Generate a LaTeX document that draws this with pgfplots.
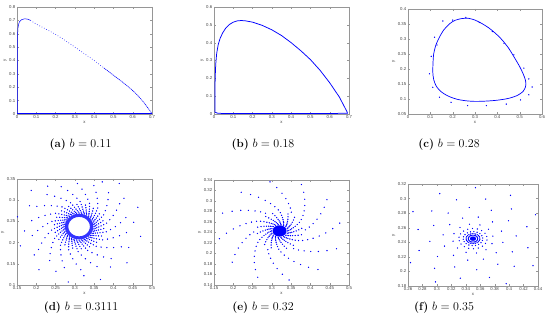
\documentclass[border=0pt]{standalone}
\usepackage{fontspec}
\usepackage{pgfplots}
\pgfplotsset{compat=1.18}
\newfontfamily\tickfam{Liberation Sans}
\newcommand\tickfont{\tickfam\fontsize{4.3}{5}\selectfont}
\definecolor{mblue}{RGB}{0,0,255}
\definecolor{frame}{RGB}{150,150,150}
\pgfplotsset{
  panel/.style={
    scale only axis, anchor=south west,
    axis line style={frame, line width=0.4pt},
    every tick/.style={frame, line width=0.3pt},
    tick align=inside, major tick length=1.6pt,
    ticklabel style={font=\tickfont, text=black!75},
    xticklabel style={inner sep=1pt, yshift=-0.6pt},
    yticklabel style={inner sep=1pt, xshift=-0.6pt},
    label style={font=\tickfont, text=black!75},
    xlabel={x}, ylabel={y},
    xlabel style={yshift=2pt}, ylabel style={yshift=-2pt},
    scaled ticks=false,
    /pgf/number format/fixed, /pgf/number format/precision=4,
    /pgf/number format/assume math mode=true,
  },
  ovl/.style={scale only axis, anchor=south west, hide axis, clip=true},
  dots/.style={color=mblue, only marks, mark=*, mark size=0.4pt, mark options={draw=none, fill=mblue}, data cs=polar},
}
\begin{document}
\begin{tikzpicture}[x=1pt,y=1pt]
\useasboundingbox (0,0) rectangle (550,328);

% ---------------- (a)
\begin{axis}[panel, at={(17pt,214pt)}, width=135pt, height=107pt,
  xmin=0, xmax=0.7, ymin=0, ymax=0.8,
  xtick={0,0.1,0.2,0.3,0.4,0.5,0.6,0.7}, ytick={0,0.1,0.2,0.3,0.4,0.5,0.6,0.7,0.8}]
\addplot[mblue, line width=0.7pt] coordinates {(0,0.003) (0.7,0.003)};
\addplot[mblue, line width=0.5pt, smooth] coordinates {(0.003,0) (0.003,0.5) (0.004,0.62) (0.007,0.66) (0.013,0.69) (0.024,0.705) (0.04,0.712) (0.055,0.709) (0.07,0.70)};
\addplot[mblue, line width=0.6pt, smooth, dash pattern=on 0.6pt off 2pt] coordinates {(0.07,0.70) (0.1,0.672) (0.15,0.635) (0.2,0.595) (0.25,0.55) (0.3,0.50) (0.35,0.45) (0.4,0.40) (0.45,0.345)};
\addplot[mblue, line width=0.6pt, smooth, dash pattern=on 1.2pt off 0.7pt] coordinates {(0.45,0.345) (0.5,0.29) (0.55,0.235) (0.6,0.175) (0.65,0.10) (0.7,0.003)};
\end{axis}
\node[font=\fontsize{11.5}{13}\selectfont] at (80.5,183) {\textbf{(a)} $b=0.11$};

% ---------------- (b)
\begin{axis}[panel, at={(214pt,214pt)}, width=135pt, height=107pt,
  xmin=0, xmax=0.7, ymin=0, ymax=0.6,
  xtick={0,0.1,0.2,0.3,0.4,0.5,0.6,0.7}, ytick={0,0.1,0.2,0.3,0.4,0.5,0.6}]
\addplot[mblue, line width=0.75pt] coordinates {(0.005,0.01) (0.005,0.1) (0.006,0.2) (0.009,0.28) (0.014,0.34) (0.022,0.39) (0.032,0.425) (0.045,0.455) (0.06,0.48) (0.08,0.502) (0.10,0.515) (0.12,0.522) (0.14,0.524) (0.16,0.523) (0.2,0.515) (0.25,0.497) (0.3,0.472) (0.35,0.44) (0.4,0.40) (0.45,0.355) (0.5,0.305) (0.55,0.245) (0.6,0.175) (0.65,0.095) (0.69,0.012) (0.692,0.004) (0.6,0.003) (0.3,0.003) (0.05,0.003) (0.02,0.004) (0.01,0.008) (0.005,0.01)};
\end{axis}
\node[font=\fontsize{11.5}{13}\selectfont] at (263,183) {\textbf{(b)} $b=0.18$};

% ---------------- (c)
\begin{axis}[panel, at={(408pt,214pt)}, width=134pt, height=105pt,
  xmin=0, xmax=0.6, ymin=0.05, ymax=0.4,
  xtick={0,0.1,0.2,0.3,0.4,0.5,0.6}, ytick={0.05,0.1,0.15,0.2,0.25,0.3,0.35,0.4}]
\addplot[mblue, line width=0.7pt, smooth] coordinates {(0.112,0.22) (0.115,0.25) (0.125,0.28) (0.14,0.305) (0.16,0.33) (0.185,0.35) (0.21,0.362) (0.24,0.368) (0.27,0.369) (0.30,0.363) (0.33,0.352) (0.36,0.338) (0.39,0.32) (0.42,0.298) (0.45,0.27) (0.475,0.24) (0.50,0.208) (0.515,0.185) (0.525,0.165) (0.528,0.15) (0.526,0.14) (0.515,0.125) (0.49,0.112) (0.45,0.102) (0.40,0.096) (0.35,0.093) (0.30,0.092) (0.26,0.094) (0.22,0.099) (0.185,0.108) (0.16,0.118) (0.14,0.13) (0.125,0.145) (0.115,0.165) (0.111,0.19) (0.112,0.22)};
\addplot[color=mblue, only marks, mark=*, mark size=0.4pt, mark options={draw=none, fill=mblue}] coordinates {(0.156,0.36) (0.119,0.306) (0.104,0.242) (0.096,0.184) (0.111,0.139) (0.141,0.106) (0.193,0.089) (0.267,0.078) (0.351,0.078) (0.44,0.083) (0.504,0.097) (0.541,0.114) (0.556,0.14) (0.541,0.167) (0.519,0.203) (0.474,0.247) (0.43,0.286) (0.378,0.325) (0.319,0.355) (0.259,0.372) (0.2,0.363) (0.13,0.28)};
\end{axis}
\node[font=\fontsize{11.5}{13}\selectfont] at (449,183) {\textbf{(c)} $b=0.28$};

% ---------------- (d)
\begin{axis}[panel, at={(17pt,43pt)}, width=135pt, height=106pt,
  xmin=0.15, xmax=0.5, ymin=0.1, ymax=0.35,
  xtick={0.15,0.2,0.25,0.3,0.35,0.4,0.45,0.5}, ytick={0.1,0.15,0.2,0.25,0.3,0.35}]
\end{axis}
\begin{axis}[ovl, at={(17pt,43pt)}, width=135pt, height=106pt,
  xmin=-0.161, xmax=0.189, ymin=-0.168, ymax=0.137]
\addplot[fill=mblue, fill opacity=0.8, draw=none, data cs=polar] coordinates {(0,.037) (15,.037) (30,.037) (45,.037) (60,.037) (75,.037) (90,.037) (105,.037) (120,.037) (135,.037) (150,.037) (165,.037) (180,.037) (195,.037) (210,.037) (225,.037) (240,.037) (255,.037) (270,.037) (285,.037) (300,.037) (315,.037) (330,.037) (345,.037) (360,.037) (360,.028) (345,.028) (330,.028) (315,.028) (300,.028) (285,.028) (270,.028) (255,.028) (240,.028) (225,.028) (210,.028) (195,.028) (180,.028) (165,.028) (150,.028) (135,.028) (120,.028) (105,.028) (90,.028) (75,.028) (60,.028) (45,.028) (30,.028) (15,.028) (0,.028)};
\addplot[dots] coordinates {(0,.039) (10,.039) (20,.039) (30,.039) (40,.039) (50,.039) (60,.039) (70,.039) (80,.039) (90,.039) (100,.039) (110,.039) (120,.039) (130,.039) (140,.039) (150,.039) (160,.039) (170,.039) (180,.039) (190,.039) (200,.039) (210,.039) (220,.039) (230,.039) (240,.039) (250,.039) (260,.039) (270,.039) (280,.039) (290,.039) (300,.039) (310,.039) (320,.039) (330,.039) (340,.039) (350,.039)};
\addplot[dots] coordinates {(3,.042) (13,.042) (23,.042) (33,.042) (43,.042) (53,.042) (63,.042) (73,.042) (83,.042) (93,.042) (103,.042) (113,.042) (123,.042) (133,.042) (143,.042) (153,.042) (163,.042) (173,.042) (183,.042) (193,.042) (203,.042) (213,.042) (223,.042) (233,.042) (243,.042) (253,.042) (263,.042) (273,.042) (283,.042) (293,.042) (303,.042) (313,.042) (323,.042) (333,.042) (343,.042) (353,.042)};
\addplot[dots] coordinates {(6,.046) (16,.046) (26,.046) (36,.046) (46,.046) (56,.046) (66,.046) (76,.046) (86,.046) (96,.046) (106,.046) (116,.046) (126,.046) (136,.046) (146,.046) (156,.046) (166,.046) (176,.046) (186,.046) (196,.046) (206,.046) (216,.046) (226,.046) (236,.046) (246,.046) (256,.046) (266,.046) (276,.046) (286,.046) (296,.046) (306,.046) (316,.046) (326,.046) (336,.046) (346,.046) (356,.046)};
\addplot[dots] coordinates {(9,.051) (19,.051) (29,.051) (39,.051) (49,.051) (59,.051) (69,.051) (79,.051) (89,.051) (99,.051) (109,.051) (119,.051) (129,.051) (139,.051) (149,.051) (159,.051) (169,.051) (179,.051) (189,.051) (199,.051) (209,.051) (219,.051) (229,.051) (239,.051) (249,.051) (259,.051) (269,.051) (279,.051) (289,.051) (299,.051) (309,.051) (319,.051) (329,.051) (339,.051) (349,.051) (359,.051)};
\addplot[dots] coordinates {(2,.057) (12,.057) (22,.057) (32,.057) (42,.057) (52,.057) (62,.057) (72,.057) (82,.057) (92,.057) (102,.057) (112,.057) (122,.057) (132,.057) (142,.057) (152,.057) (162,.057) (172,.057) (182,.057) (192,.057) (202,.057) (212,.057) (222,.057) (232,.057) (242,.057) (252,.057) (262,.057) (272,.057) (282,.057) (292,.057) (302,.057) (312,.057) (322,.057) (332,.057) (342,.057) (352,.057)};
\addplot[dots] coordinates {(5,.064) (15,.064) (25,.064) (35,.064) (45,.064) (55,.064) (65,.064) (75,.064) (85,.064) (95,.064) (105,.064) (115,.064) (125,.064) (135,.064) (145,.064) (155,.064) (165,.064) (175,.064) (185,.064) (195,.064) (205,.064) (215,.064) (225,.064) (235,.064) (245,.064) (255,.064) (265,.064) (275,.064) (285,.064) (295,.064) (305,.064) (315,.064) (325,.064) (335,.064) (345,.064) (355,.064)};
\addplot[dots] coordinates {(8,.072) (28,.072) (48,.072) (68,.072) (88,.072) (108,.072) (128,.072) (148,.072) (168,.072) (188,.072) (208,.072) (228,.072) (248,.072) (268,.072) (288,.072) (308,.072) (328,.072) (348,.072)};
\addplot[dots] coordinates {(14,.082) (34,.082) (54,.082) (74,.082) (94,.082) (114,.082) (134,.082) (154,.082) (174,.082) (194,.082) (214,.082) (234,.082) (254,.082) (274,.082) (294,.082) (314,.082) (334,.082) (354,.082)};
\addplot[dots] coordinates {(0,.094) (20,.094) (40,.094) (60,.094) (80,.094) (100,.094) (120,.094) (140,.094) (160,.094) (180,.094) (200,.094) (220,.094) (240,.094) (260,.094) (280,.094) (300,.094) (320,.094) (340,.094)};
\addplot[dots] coordinates {(6,.108) (26,.108) (46,.108) (66,.108) (86,.108) (106,.108) (126,.108) (146,.108) (166,.108) (186,.108) (206,.108) (226,.108) (246,.108) (266,.108) (286,.108) (306,.108) (326,.108) (346,.108)};
\addplot[dots] coordinates {(12,.124) (32,.124) (52,.124) (72,.124) (92,.124) (112,.124) (132,.124) (152,.124) (172,.124) (192,.124) (212,.124) (232,.124) (252,.124) (272,.124) (292,.124) (312,.124) (332,.124) (352,.124)};
\addplot[dots] coordinates {(5,.142) (35,.142) (65,.142) (95,.142) (125,.142) (155,.142) (185,.142) (215,.142) (245,.142) (275,.142) (305,.142) (335,.142)};
\addplot[dots] coordinates {(20,.162) (50,.162) (80,.162) (110,.162) (140,.162) (170,.162) (200,.162) (230,.162) (260,.162) (290,.162) (320,.162) (350,.162)};
\end{axis}
\node[font=\fontsize{11.5}{13}\selectfont] at (81,20) {\textbf{(d)} $b=0.3111$};

% ---------------- (e)
\begin{axis}[panel, at={(214pt,43pt)}, width=135pt, height=105pt,
  xmin=0.15, xmax=0.5, ymin=0.14, ymax=0.34,
  xtick={0.15,0.2,0.25,0.3,0.35,0.4,0.45,0.5}, ytick={0.14,0.16,0.18,0.2,0.22,0.24,0.26,0.28,0.3,0.32,0.34}]
\end{axis}
\begin{axis}[ovl, at={(214pt,43pt)}, width=135pt, height=105pt,
  xmin=-0.17, xmax=0.18, ymin=-0.172, ymax=0.162]
\addplot[fill=mblue, draw=none, data cs=polar] coordinates {(0,.018) (15,.018) (30,.018) (45,.018) (60,.018) (75,.018) (90,.018) (105,.018) (120,.018) (135,.018) (150,.018) (165,.018) (180,.018) (195,.018) (210,.018) (225,.018) (240,.018) (255,.018) (270,.018) (285,.018) (300,.018) (315,.018) (330,.018) (345,.018) (360,.018)};
\addplot[dots] coordinates {(0,.021) (20,.021) (40,.021) (60,.021) (80,.021) (100,.021) (120,.021) (140,.021) (160,.021) (180,.021) (200,.021) (220,.021) (240,.021) (260,.021) (280,.021) (300,.021) (320,.021) (340,.021)};
\addplot[dots] coordinates {(4,.024) (24,.024) (44,.024) (64,.024) (84,.024) (104,.024) (124,.024) (144,.024) (164,.024) (184,.024) (204,.024) (224,.024) (244,.024) (264,.024) (284,.024) (304,.024) (324,.024) (344,.024)};
\addplot[dots] coordinates {(8,.028) (28,.028) (48,.028) (68,.028) (88,.028) (108,.028) (128,.028) (148,.028) (168,.028) (188,.028) (208,.028) (228,.028) (248,.028) (268,.028) (288,.028) (308,.028) (328,.028) (348,.028)};
\addplot[dots] coordinates {(12,.032) (32,.032) (52,.032) (72,.032) (92,.032) (112,.032) (132,.032) (152,.032) (172,.032) (192,.032) (212,.032) (232,.032) (252,.032) (272,.032) (292,.032) (312,.032) (332,.032) (352,.032)};
\addplot[dots] coordinates {(16,.037) (36,.037) (56,.037) (76,.037) (96,.037) (116,.037) (136,.037) (156,.037) (176,.037) (196,.037) (216,.037) (236,.037) (256,.037) (276,.037) (296,.037) (316,.037) (336,.037) (356,.037)};
\addplot[dots] coordinates {(0,.043) (20,.043) (40,.043) (60,.043) (80,.043) (100,.043) (120,.043) (140,.043) (160,.043) (180,.043) (200,.043) (220,.043) (240,.043) (260,.043) (280,.043) (300,.043) (320,.043) (340,.043)};
\addplot[dots] coordinates {(4,.050) (24,.050) (44,.050) (64,.050) (84,.050) (104,.050) (124,.050) (144,.050) (164,.050) (184,.050) (204,.050) (224,.050) (244,.050) (264,.050) (284,.050) (304,.050) (324,.050) (344,.050)};
\addplot[dots] coordinates {(8,.058) (28,.058) (48,.058) (68,.058) (88,.058) (108,.058) (128,.058) (148,.058) (168,.058) (188,.058) (208,.058) (228,.058) (248,.058) (268,.058) (288,.058) (308,.058) (328,.058) (348,.058)};
\addplot[dots] coordinates {(3,.067) (33,.067) (63,.067) (93,.067) (123,.067) (153,.067) (183,.067) (213,.067) (243,.067) (273,.067) (303,.067) (333,.067)};
\addplot[dots] coordinates {(9,.078) (39,.078) (69,.078) (99,.078) (129,.078) (159,.078) (189,.078) (219,.078) (249,.078) (279,.078) (309,.078) (339,.078)};
\addplot[dots] coordinates {(15,.090) (45,.090) (75,.090) (105,.090) (135,.090) (165,.090) (195,.090) (225,.090) (255,.090) (285,.090) (315,.090) (345,.090)};
\addplot[dots] coordinates {(21,.104) (51,.104) (81,.104) (111,.104) (141,.104) (171,.104) (201,.104) (231,.104) (261,.104) (291,.104) (321,.104) (351,.104)};
\addplot[dots] coordinates {(27,.120) (57,.120) (87,.120) (117,.120) (147,.120) (177,.120) (207,.120) (237,.120) (267,.120) (297,.120) (327,.120) (357,.120)};
\addplot[dots] coordinates {(3,.138) (33,.138) (63,.138) (93,.138) (123,.138) (153,.138) (183,.138) (213,.138) (243,.138) (273,.138) (303,.138) (333,.138)};
\addplot[dots] coordinates {(9,.158) (39,.158) (69,.158) (99,.158) (129,.158) (159,.158) (189,.158) (219,.158) (249,.158) (279,.158) (309,.158) (339,.158)};
\end{axis}
\node[font=\fontsize{11.5}{13}\selectfont] at (263,20) {\textbf{(e)} $b=0.32$};

% ---------------- (f)
\begin{axis}[panel, at={(408pt,42pt)}, width=130pt, height=102pt,
  xmin=0.26, xmax=0.44, ymin=0.18, ymax=0.32,
  xtick={0.26,0.28,0.3,0.32,0.34,0.36,0.38,0.4,0.42,0.44}, ytick={0.18,0.2,0.22,0.24,0.26,0.28,0.3,0.32}]
\end{axis}
\begin{axis}[ovl, at={(408pt,42pt)}, width=130pt, height=102pt,
  xmin=-0.09, xmax=0.09, ymin=-0.091, ymax=0.105]
\addplot[fill=mblue, draw=none, data cs=polar] coordinates {(0,.0042) (30,.0042) (60,.0042) (90,.0042) (120,.0042) (150,.0042) (180,.0042) (210,.0042) (240,.0042) (270,.0042) (300,.0042) (330,.0042) (360,.0042)};
\addplot[dots] coordinates {(0,.0065) (15,.0065) (30,.0065) (45,.0065) (60,.0065) (75,.0065) (90,.0065) (105,.0065) (120,.0065) (135,.0065) (150,.0065) (165,.0065) (180,.0065) (195,.0065) (210,.0065) (225,.0065) (240,.0065) (255,.0065) (270,.0065) (285,.0065) (300,.0065) (315,.0065) (330,.0065) (345,.0065)};
\addplot[dots] coordinates {(7,.0095) (22,.0095) (37,.0095) (52,.0095) (67,.0095) (82,.0095) (97,.0095) (112,.0095) (127,.0095) (142,.0095) (157,.0095) (172,.0095) (187,.0095) (202,.0095) (217,.0095) (232,.0095) (247,.0095) (262,.0095) (277,.0095) (292,.0095) (307,.0095) (322,.0095) (337,.0095) (352,.0095)};
\addplot[dots] coordinates {(5,.0135) (25,.0135) (45,.0135) (65,.0135) (85,.0135) (105,.0135) (125,.0135) (145,.0135) (165,.0135) (185,.0135) (205,.0135) (225,.0135) (245,.0135) (265,.0135) (285,.0135) (305,.0135) (325,.0135) (345,.0135)};
\addplot[dots] coordinates {(12,.0195) (32,.0195) (52,.0195) (72,.0195) (92,.0195) (112,.0195) (132,.0195) (152,.0195) (172,.0195) (192,.0195) (212,.0195) (232,.0195) (252,.0195) (272,.0195) (292,.0195) (312,.0195) (332,.0195) (352,.0195)};
\addplot[dots] coordinates {(10,.028) (40,.028) (70,.028) (100,.028) (130,.028) (160,.028) (190,.028) (220,.028) (250,.028) (280,.028) (310,.028) (340,.028)};
\addplot[dots] coordinates {(20,.042) (50,.042) (80,.042) (110,.042) (140,.042) (170,.042) (200,.042) (230,.042) (260,.042) (290,.042) (320,.042) (350,.042)};
\addplot[dots] coordinates {(5,.060) (35,.060) (65,.060) (95,.060) (125,.060) (155,.060) (185,.060) (215,.060) (245,.060) (275,.060) (305,.060) (335,.060)};
\addplot[dots] coordinates {(17,.078) (47,.078) (77,.078) (107,.078) (137,.078) (167,.078) (197,.078) (227,.078) (257,.078) (287,.078) (317,.078) (347,.078)};
\addplot[dots] coordinates {(28,.098) (58,.098) (88,.098) (118,.098) (148,.098) (178,.098) (208,.098) (238,.098) (268,.098) (298,.098) (328,.098) (358,.098)};
\end{axis}
\node[font=\fontsize{11.5}{13}\selectfont] at (444,20) {\textbf{(f)} $b=0.35$};
\end{tikzpicture}
\end{document}
